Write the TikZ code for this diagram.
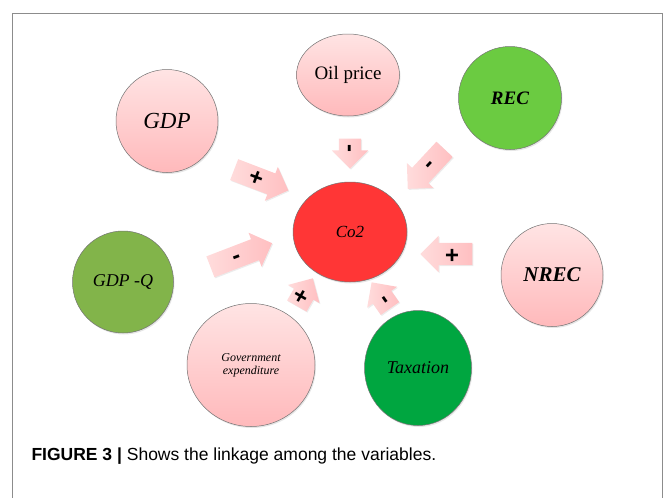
\documentclass[tikz,border=0pt]{standalone}
\usepackage{fontspec}
\setmainfont{Liberation Serif}
\setsansfont{Liberation Sans}
\usetikzlibrary{shapes.geometric,shapes.arrows,shadows}

\definecolor{pinktop}{HTML}{FFE4E4}
\definecolor{pinkbot}{HTML}{FFB9BB}
\definecolor{recgreen}{HTML}{6BCB41}
\definecolor{gdpqgreen}{HTML}{82B44A}
\definecolor{taxgreen}{HTML}{00A640}
\definecolor{cored}{HTML}{FF3636}
\definecolor{arrowtail}{HTML}{FFDCDC}
\definecolor{arrowhead}{HTML}{FFBFC1}

\begin{document}
\begin{tikzpicture}[x=1pt, y=-1pt,
	var/.style={ellipse, draw=black!55, line width=0.5pt, inner sep=0pt, align=center,
		drop shadow={opacity=0.2, shadow xshift=1pt, shadow yshift=-1.5pt}},
	pinkvar/.style={var, top color=pinktop, bottom color=pinkbot},
	effect/.style={single arrow, draw=none, inner xsep=3pt, inner ysep=0pt,
		minimum height=#1, minimum width=0pt, text height=18pt, text depth=4pt,
		single arrow head extend=7pt, single arrow head indent=0pt,
		left color=arrowtail, right color=arrowhead,
		font=\sffamily\bfseries\fontsize{24}{24}\selectfont,
		drop shadow={opacity=0.15, shadow xshift=1pt, shadow yshift=-1pt}}]
	\useasboundingbox (0,0) rectangle (665,498);
	\draw[black!45, line width=1pt] (12,498) -- (12,13) -- (662,13) -- (662,498);

	\node[var, fill=cored, minimum width=114pt, minimum height=100pt,
		font=\itshape\fontsize{17}{19}\selectfont] (co2) at (350,232) {Co2};
	\node[pinkvar, minimum width=102pt, minimum height=103pt,
		font=\itshape\fontsize{23}{25}\selectfont] (gdp) at (167,121) {GDP};
	\node[pinkvar, minimum width=103pt, minimum height=82pt,
		font=\fontsize{19}{21}\selectfont] (oil) at (348,75) {Oil price};
	\node[var, fill=recgreen, minimum width=103pt, minimum height=103pt,
		font=\bfseries\itshape\fontsize{19}{21}\selectfont] (rec) at (510,98) {REC};
	\node[var, fill=gdpqgreen, minimum width=101pt, minimum height=102pt,
		font=\itshape\fontsize{18}{20}\selectfont] (gdpq) at (123,282) {GDP -Q};
	\node[pinkvar, minimum width=102pt, minimum height=103pt,
		font=\bfseries\itshape\fontsize{21}{23}\selectfont] (nrec) at (552,275) {NREC};
	\node[pinkvar, minimum width=128pt, minimum height=123pt,
		font=\itshape\fontsize{12}{13}\selectfont] (govexp) at (251,365) {Government\\expenditure};
	\node[var, fill=taxgreen, minimum width=107pt, minimum height=115pt,
		font=\itshape\fontsize{18}{20}\selectfont] (tax) at (418,368) {Taxation};

	\node[effect=58pt, rotate=-21] (gdparrow) at (256,178) {+};
	\node[effect=30pt, rotate=-90] (oilarrow) at (350,148) {-};
	\node[effect=54pt, rotate=-133] (recarrow) at (430,165) {-};
	\node[effect=66pt, rotate=21] (gdpqarrow) at (236,257) {-};
	\node[effect=52pt, rotate=180] (nrecarrow) at (452,254) {+};
	\node[effect=32pt, rotate=60] (govarrow) at (302,297) {+};
	\node[effect=32pt, rotate=125] (taxarrow) at (384,300) {-};

	\node[anchor=west, font=\sffamily\fontsize{17.5}{20}\selectfont] (caption) at (28,456)
		{\textbf{FIGURE 3 |} Shows the linkage among the variables.};
\end{tikzpicture}
\end{document}
